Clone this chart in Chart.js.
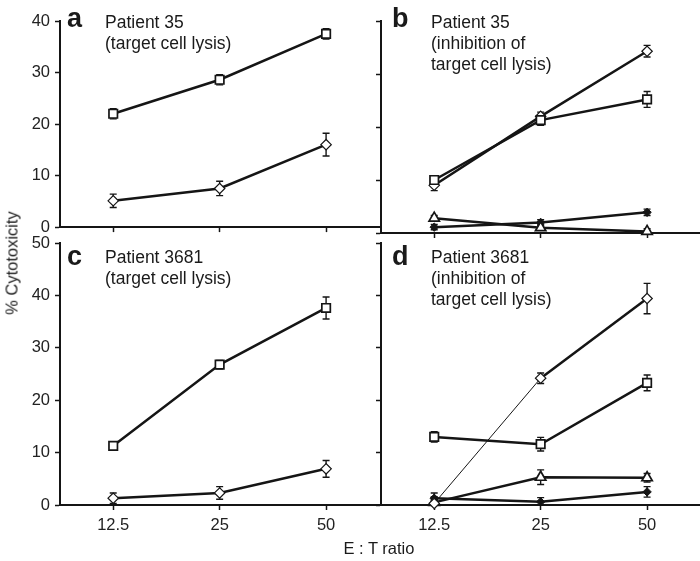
<!DOCTYPE html>
<html>
<head>
<meta charset="utf-8">
<script src="https://cdn.jsdelivr.net/npm/chart.js@4"></script>
<style>
  html, body { margin: 0; padding: 0; background: #fff; overflow: hidden; }
  body { width: 700px; height: 561px; position: relative; font-family: "Liberation Sans", Arial, sans-serif; color: #1a1a1a; }
  canvas { position: absolute; }
  .lbl { position: absolute; font-size: 17.5px; line-height: 21px; white-space: nowrap; }
  .let { position: absolute; font-size: 27px; font-weight: bold; line-height: 26px; }
  #ylab { position: absolute; left: 12px; top: 263px; font-size: 16.5px; transform: translate(-50%, -50%) rotate(-90deg); white-space: nowrap; }
  #xlab { position: absolute; left: 379px; top: 548px; font-size: 16.5px; transform: translate(-50%, -50%); white-space: nowrap; }
</style>
</head>
<body>
<canvas id="pa" width="387" height="242" style="left:0;top:0"></canvas>
<canvas id="pb" width="337" height="242" style="left:371px;top:0"></canvas>
<canvas id="pc" width="387" height="333" style="left:0;top:228px"></canvas>
<canvas id="pd" width="337" height="333" style="left:371px;top:228px"></canvas>

<div class="let" style="left:67px;top:5px">a</div>
<div class="lbl" style="left:105px;top:12px">Patient 35<br>(target cell lysis)</div>
<div class="let" style="left:392px;top:5px">b</div>
<div class="lbl" style="left:431px;top:12px">Patient 35<br>(inhibition of<br>target cell lysis)</div>
<div class="let" style="left:67px;top:243px">c</div>
<div class="lbl" style="left:105px;top:247px">Patient 3681<br>(target cell lysis)</div>
<div class="let" style="left:392px;top:243px">d</div>
<div class="lbl" style="left:431px;top:247px">Patient 3681<br>(inhibition of<br>target cell lysis)</div>
<div id="ylab">% Cytotoxicity</div>
<div id="xlab">E : T ratio</div>

<script>
const ratios = ['12.5', '25', '50'];

// panel a - Patient 35, target cell lysis
const aSquare = [22, 28.6, 37.5];
const aSquareErr = [1, 1, 1];
const aDiamond = [5.1, 7.5, 16];
const aDiamondErr = [1.3, 1.4, 2.2];

// panel b - Patient 35, inhibition
const bSquare = [10, 21.3, 25.2];
const bSquareErr = [0.8, 1, 1.5];
const bDiamond = [9, 22, 34.3];
const bDiamondErr = [1, 0.8, 1.1];
const bTriangle = [2.8, 1.0, 0.3];
const bTriangleErr = [0.5, 0.5, 0.5];
const bFilled = [1.1, 2.0, 3.9];
const bFilledErr = [0.5, 0.5, 0.6];

// panel c - Patient 3681, target cell lysis
const cSquare = [11.3, 26.8, 37.6];
const cSquareErr = [0.8, 0.8, 2.1];
const cDiamond = [1.3, 2.3, 6.9];
const cDiamondErr = [1, 1.2, 1.6];

// panel d - Patient 3681, inhibition
const dDiamond = [0.3, 24.2, 39.4];
const dDiamondErr = [0.5, 1, 2.9];
const dSquare = [13, 11.6, 23.3];
const dSquareErr = [1, 1.3, 1.5];
const dTriangle = [0.5, 5.3, 5.2];
const dTriangleErr = [1.8, 1.4, 0.8];
const dFilled = [1.3, 0.6, 2.5];
const dFilledErr = [0.3, 0.8, 1];

const INK = '#151515';
Chart.defaults.font.family = '"Liberation Sans", Arial, sans-serif';
Chart.defaults.color = '#222';

const markers = {
  square: { pointStyle: 'rect', pointRadius: 6, pointBackgroundColor: '#fff', pointBorderWidth: 1.7 },
  diamond: { pointStyle: 'rectRot', pointRadius: 5.2, pointBackgroundColor: '#fff', pointBorderWidth: 1.2 },
  triangle: { pointStyle: 'triangle', pointRadius: 6, pointBackgroundColor: '#fff', pointBorderWidth: 1.7 },
  filled: { pointStyle: 'rectRot', pointRadius: 4.2, pointBackgroundColor: INK, pointBorderWidth: 1 }
};

function series(values, errs, kind, extra) {
  return Object.assign({
    data: values,
    errors: errs,
    borderColor: INK,
    pointBorderColor: INK,
    borderWidth: 2.5,
    tension: 0,
    clip: false
  }, markers[kind], extra || {});
}

const errorBars = {
  id: 'errorBars',
  beforeDatasetsDraw(chart) {
    const ctx = chart.ctx;
    const y = chart.scales.y;
    ctx.save();
    ctx.strokeStyle = INK;
    ctx.lineWidth = 1.4;
    chart.data.datasets.forEach((ds, i) => {
      if (!ds.errors) return;
      const meta = chart.getDatasetMeta(i);
      meta.data.forEach((pt, j) => {
        const e = ds.errors[j];
        const v = ds.data[j];
        const top = y.getPixelForValue(v + e);
        const bot = y.getPixelForValue(Math.max(0, v - e));
        ctx.beginPath();
        ctx.moveTo(pt.x, top); ctx.lineTo(pt.x, bot);
        ctx.moveTo(pt.x - 3.5, top); ctx.lineTo(pt.x + 3.5, top);
        ctx.moveTo(pt.x - 3.5, bot); ctx.lineTo(pt.x + 3.5, bot);
        ctx.stroke();
      });
    });
    ctx.restore();
  }
};

function makePanel(id, datasets, opt) {
  new Chart(document.getElementById(id), {
    type: 'line',
    data: { labels: ratios, datasets: datasets },
    plugins: [errorBars],
    options: {
      responsive: false,
      animation: false,
      layout: { padding: { top: opt.top, left: 0, right: 0, bottom: 0 } },
      plugins: { legend: { display: false }, tooltip: { enabled: false } },
      scales: {
        x: {
          type: 'category',
          offset: true,
          border: { display: true, color: INK, width: 2 },
          grid: { drawOnChartArea: false, color: INK, tickLength: 5, tickWidth: 1.5 },
          ticks: { display: opt.xLabels, font: { size: 16.5 }, padding: 6, maxRotation: 0 },
          afterFit: s => { s.height = opt.xHeight; }
        },
        y: {
          min: 0,
          max: opt.max,
          border: { display: true, color: INK, width: 2 },
          grid: { drawOnChartArea: false, color: INK, tickLength: 5, tickWidth: 1.5 },
          ticks: { display: opt.yLabels, stepSize: 10, font: { size: 16.5 }, padding: 5 },
          afterFit: s => { s.width = opt.yWidth; }
        }
      }
    }
  });
}

makePanel('pa', [
  series(aSquare, aSquareErr, 'square'),
  series(aDiamond, aDiamondErr, 'diamond')
], { top: 21, max: 40, xLabels: false, yLabels: true, xHeight: 9, yWidth: 60 });

makePanel('pb', [
  series(bSquare, bSquareErr, 'square'),
  series(bDiamond, bDiamondErr, 'diamond'),
  series(bTriangle, bTriangleErr, 'triangle'),
  series(bFilled, bFilledErr, 'filled')
], { top: 21, max: 40, xLabels: false, yLabels: false, xHeight: 9, yWidth: 10 });

makePanel('pc', [
  series(cSquare, cSquareErr, 'square'),
  series(cDiamond, cDiamondErr, 'diamond')
], { top: 15, max: 50, xLabels: true, yLabels: true, xHeight: 56, yWidth: 60 });

makePanel('pd', [
  series(dDiamond, dDiamondErr, 'diamond', {
    segment: { borderWidth: c => c.p0DataIndex === 0 ? 1 : 2.5 }
  }),
  series(dSquare, dSquareErr, 'square'),
  series(dTriangle, dTriangleErr, 'triangle'),
  series(dFilled, dFilledErr, 'filled')
], { top: 15, max: 50, xLabels: true, yLabels: false, xHeight: 56, yWidth: 10 });
</script>
</body>
</html>
